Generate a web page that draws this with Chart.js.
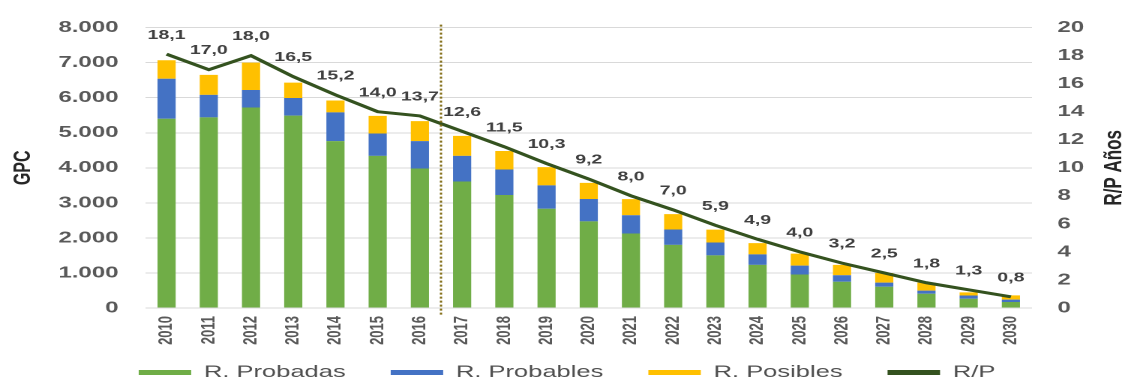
<!DOCTYPE html>
<html lang="es">
<head>
<meta charset="utf-8">
<title>Reservas de gas y relación R/P 2010-2030</title>
<script src="https://cdn.jsdelivr.net/npm/chart.js@4/dist/chart.umd.min.js"></script>
<style>
  html, body { margin: 0; padding: 0; background: #ffffff; overflow: hidden; }
  #wrap {
    position: relative;
    width: 756px;
    height: 385px;
    transform: scaleX(1.5);
    transform-origin: 0 0;
  }
</style>
</head>
<body>
<div id="wrap"><canvas id="chart"></canvas></div>
<script>
// Años del horizonte
const years = ['2010','2011','2012','2013','2014','2015','2016','2017','2018','2019','2020',
               '2021','2022','2023','2024','2025','2026','2027','2028','2029','2030'];

// Reservas (GPC)
const probadas  = [5400, 5440, 5720, 5490, 4760, 4340, 3980, 3610, 3225, 2830, 2470,
                   2125, 1800, 1500, 1230, 955, 750, 605, 405, 265, 170];
const probables = [1140, 640, 500, 500, 820, 640, 780, 730, 725, 670, 640,
                   520, 440, 370, 300, 255, 185, 120, 90, 90, 70];
const posibles  = [530, 570, 780, 440, 340, 500, 570, 570, 530, 520, 460,
                   460, 440, 365, 320, 340, 295, 275, 230, 90, 120];

// Relación reservas / producción (años)
const rp = [18.1, 17.0, 18.0, 16.5, 15.2, 14.0, 13.7, 12.6, 11.5, 10.3, 9.2,
            8.0, 7.0, 5.9, 4.9, 4.0, 3.2, 2.5, 1.8, 1.3, 0.8];

// Ejes
const gpcTicks = [0, 1000, 2000, 3000, 4000, 5000, 6000, 7000, 8000];
const rpTicks  = [0, 2, 4, 6, 8, 10, 12, 14, 16, 18, 20];

// Último año histórico (separador punteado a su derecha)
const lastHistoricYear = '2016';

const FONT = "'Liberation Sans', Arial, sans-serif";
const GREEN = '#70AD47', BLUE = '#4472C4', YELLOW = '#FFC000', DARK = '#34521f';

const fmtMiles = v => String(v).replace(/\B(?=(\d{3})+(?!\d))/g, '.');
const fmtDec = v => v.toFixed(1).replace('.', ',');

// Etiquetas de valor sobre la línea R/P
const rpLabels = {
  id: 'rpLabels',
  afterDatasetsDraw(chart) {
    const idx = chart.data.datasets.findIndex(d => d.yAxisID === 'y1');
    const meta = chart.getDatasetMeta(idx);
    const ctx = chart.ctx;
    ctx.save();
    ctx.font = 'bold 13px ' + FONT;
    ctx.fillStyle = '#404040';
    ctx.textAlign = 'center';
    ctx.textBaseline = 'middle';
    meta.data.forEach((pt, i) => {
      ctx.fillText(fmtDec(rp[i]), pt.x, pt.y - 19);
    });
    ctx.restore();
  }
};

// Separador punteado entre datos históricos y proyección
const divider = {
  id: 'divider',
  afterDatasetsDraw(chart) {
    const x = chart.scales.x;
    const i = years.indexOf(lastHistoricYear);
    const px = (x.getPixelForValue(i) + x.getPixelForValue(i + 1)) / 2;
    const area = chart.chartArea;
    const ctx = chart.ctx;
    ctx.save();
    ctx.strokeStyle = '#7f6a10';
    ctx.lineWidth = 1.5;
    ctx.setLineDash([2, 2]);
    ctx.beginPath();
    ctx.moveTo(px, area.top - 3);
    ctx.lineTo(px, area.bottom + 7);
    ctx.stroke();
    ctx.restore();
  }
};

// Título del eje derecho (lectura de abajo hacia arriba)
const rightTitle = {
  id: 'rightTitle',
  afterDraw(chart) {
    const s = chart.scales.y1;
    const area = chart.chartArea;
    const ctx = chart.ctx;
    ctx.save();
    ctx.translate(s.right - 13, (area.top + area.bottom) / 2);
    ctx.rotate(-Math.PI / 2);
    ctx.font = 'bold 17px ' + FONT;
    ctx.fillStyle = '#262626';
    ctx.textAlign = 'center';
    ctx.textBaseline = 'middle';
    ctx.fillText('R/P Años', 0, 0);
    ctx.restore();
  }
};

// La leyenda ocupa la franja inferior del lienzo; su separación horizontal
// entre elementos es mayor que la vertical, así que se recoloca tras el layout.
const legendBand = {
  id: 'legendBand',
  afterLayout(chart) {
    const lg = chart.legend;
    if (!lg) return;
    const h = 51;
    lg.top = chart.height - h;
    lg.bottom = chart.height;
    lg.height = h;
  }
};

new Chart(document.getElementById('chart'), {
  data: {
    labels: years,
    datasets: [
      { type: 'bar', label: 'R. Probadas',  data: probadas,  backgroundColor: GREEN,  yAxisID: 'y', order: 1 },
      { type: 'bar', label: 'R. Probables', data: probables, backgroundColor: BLUE,   yAxisID: 'y', order: 1 },
      { type: 'bar', label: 'R. Posibles',  data: posibles,  backgroundColor: YELLOW, yAxisID: 'y', order: 1 },
      { type: 'line', label: 'R/P', data: rp, yAxisID: 'y1', order: 0,
        borderColor: DARK, backgroundColor: DARK, borderWidth: 3,
        pointRadius: 0, tension: 0, fill: false }
    ]
  },
  options: {
    responsive: true,
    maintainAspectRatio: false,
    devicePixelRatio: 2,
    animation: false,
    layout: { padding: { top: 7, left: 0, right: 0, bottom: 0 } },
    datasets: { bar: { categoryPercentage: 1, barPercentage: 0.43, borderWidth: 0 } },
    plugins: {
      tooltip: { enabled: false },
      legend: {
        position: 'bottom',
        maxHeight: 35,
        labels: {
          boxWidth: 35,
          boxHeight: 5,
          padding: 30,
          color: '#505050',
          font: { family: FONT, size: 17 },
          sort: (a, b) => a.datasetIndex - b.datasetIndex,
          generateLabels(chart) {
            return Chart.defaults.plugins.legend.labels.generateLabels(chart)
              .map(item => Object.assign(item, { lineWidth: 0 }));
          }
        }
      }
    },
    scales: {
      x: {
        stacked: true,
        offset: true,
        grid: { display: false, drawTicks: false },
        border: { display: false },
        ticks: {
          minRotation: 90, maxRotation: 90, padding: 8,
          color: '#595959',
          font: { family: FONT, size: 13, weight: 'bold' }
        },
        afterFit(scale) { scale.height = 42; }
      },
      y: {
        stacked: true,
        position: 'left',
        min: 0, max: 8000,
        afterBuildTicks(scale) { scale.ticks = gpcTicks.map(v => ({ value: v })); },
        grid: { color: '#d9d9d9', lineWidth: 1, drawTicks: false },
        border: { display: false },
        ticks: {
          padding: 18,
          color: '#595959',
          font: { family: FONT, size: 16, weight: 'bold' },
          callback: v => fmtMiles(v)
        },
        title: {
          display: true, text: 'GPC', color: '#262626',
          padding: { top: 6, bottom: 0 },
          font: { family: FONT, size: 16, weight: 'bold' }
        },
        afterFit(scale) { scale.width = 97; }
      },
      y1: {
        position: 'right',
        min: 0, max: 20,
        afterBuildTicks(scale) { scale.ticks = rpTicks.map(v => ({ value: v })); },
        grid: { display: false, drawTicks: false },
        border: { display: false },
        ticks: {
          padding: 17,
          color: '#595959',
          font: { family: FONT, size: 16, weight: 'bold' }
        },
        afterFit(scale) { scale.width = 68; }
      }
    }
  },
  plugins: [rpLabels, divider, rightTitle, legendBand]
});
</script>
</body>
</html>
